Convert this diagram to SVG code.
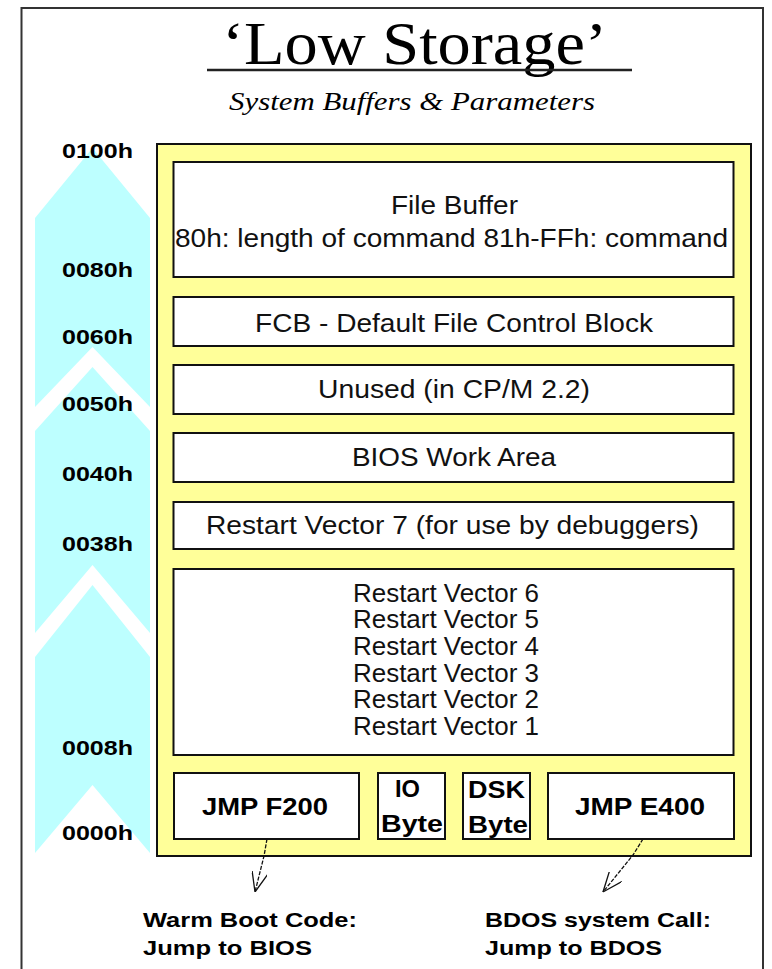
<svg xmlns="http://www.w3.org/2000/svg" width="772" height="969" viewBox="0 0 772 969">
<defs>
<style>
.frame{fill:none;stroke:#333;stroke-width:2}
.cyan{fill:#BDFFFF;stroke:none}
.yel{fill:#FFFF99;stroke:#111;stroke-width:2}
.box{fill:#fff;stroke:#111;stroke-width:2}
.t{font-family:"Liberation Sans",Arial,sans-serif;font-size:25px;fill:#111}
.b{font-family:"Liberation Sans",Arial,sans-serif;font-weight:bold;fill:#000}
.addr{font-size:21px}
.conn{fill:none;stroke:#111;stroke-width:1.3;stroke-dasharray:4 1.5}
</style>
<marker id="vhead" viewBox="0 0 20 16" refX="20" refY="8" markerWidth="20" markerHeight="16" markerUnits="userSpaceOnUse" orient="auto">
<path d="M0,0 L20,8 L0,16" fill="none" stroke="#111" stroke-width="1.3"/>
</marker>
</defs>
<rect width="772" height="969" fill="#fff"/>
<path class="frame" d="M21.5,969 V8 H763 V969"/>

<g id="title">
<text x="222" y="64" font-family="'Liberation Serif','Times New Roman',serif" font-size="62" fill="#000" textLength="385" lengthAdjust="spacingAndGlyphs">‘Low Storage’</text>
<line x1="207" y1="70" x2="632" y2="70" stroke="#222" stroke-width="2.5"/>
<text x="229" y="110" font-family="'Liberation Serif','Times New Roman',serif" font-style="italic" font-size="25" fill="#000" textLength="366" lengthAdjust="spacingAndGlyphs">System Buffers &amp; Parameters</text>
</g>

<g id="address-arrow">
<path class="cyan" d="M92.5,148 L150,218 V407 L92.5,347 L35,407 V218 Z"/>
<path class="cyan" d="M92.5,367 L150,431 V633 L92.5,565 L35,633 V431 Z"/>
<path class="cyan" d="M92.5,585 L150,657 V853 L92.5,785 L35,853 V657 Z"/>
<g class="b addr">
<text x="62" y="158" textLength="71" lengthAdjust="spacingAndGlyphs">0100h</text>
<text x="62" y="277" textLength="71" lengthAdjust="spacingAndGlyphs">0080h</text>
<text x="62" y="344" textLength="71" lengthAdjust="spacingAndGlyphs">0060h</text>
<text x="62" y="411" textLength="71" lengthAdjust="spacingAndGlyphs">0050h</text>
<text x="62" y="481" textLength="71" lengthAdjust="spacingAndGlyphs">0040h</text>
<text x="62" y="551" textLength="71" lengthAdjust="spacingAndGlyphs">0038h</text>
<text x="62" y="755" textLength="71" lengthAdjust="spacingAndGlyphs">0008h</text>
<text x="62" y="840" textLength="71" lengthAdjust="spacingAndGlyphs">0000h</text>
</g>
</g>

<g id="low-storage">
<rect class="yel" x="157" y="144" width="594" height="712"/>
</g>

<g id="file-buffer">
<rect class="box" x="173.5" y="162" width="560" height="115"/>
<text class="t" x="391" y="214" textLength="127" lengthAdjust="spacingAndGlyphs">File Buffer</text>
<text class="t" x="175" y="247" textLength="553" lengthAdjust="spacingAndGlyphs">80h: length of command 81h-FFh: command</text>
</g>

<g id="fcb">
<rect class="box" x="173.5" y="297" width="560" height="49"/>
<text class="t" x="255" y="332" textLength="398" lengthAdjust="spacingAndGlyphs">FCB - Default File Control Block</text>
</g>

<g id="unused">
<rect class="box" x="173.5" y="365" width="560" height="49"/>
<text class="t" x="318" y="398" textLength="272" lengthAdjust="spacingAndGlyphs">Unused (in CP/M 2.2)</text>
</g>

<g id="bios-work">
<rect class="box" x="173.5" y="433" width="560" height="49"/>
<text class="t" x="352" y="466" textLength="204" lengthAdjust="spacingAndGlyphs">BIOS Work Area</text>
</g>

<g id="rst7">
<rect class="box" x="173.5" y="502" width="560" height="47"/>
<text class="t" x="206" y="534" textLength="493" lengthAdjust="spacingAndGlyphs">Restart Vector 7 (for use by debuggers)</text>
</g>

<g id="rst1-6">
<rect class="box" x="173.5" y="569" width="560" height="186"/>
<text class="t" x="353" y="601.5" textLength="186" lengthAdjust="spacingAndGlyphs">Restart Vector 6</text>
<text class="t" x="353" y="628" textLength="186" lengthAdjust="spacingAndGlyphs">Restart Vector 5</text>
<text class="t" x="353" y="655" textLength="186" lengthAdjust="spacingAndGlyphs">Restart Vector 4</text>
<text class="t" x="353" y="681.5" textLength="186" lengthAdjust="spacingAndGlyphs">Restart Vector 3</text>
<text class="t" x="353" y="708" textLength="186" lengthAdjust="spacingAndGlyphs">Restart Vector 2</text>
<text class="t" x="353" y="735" textLength="186" lengthAdjust="spacingAndGlyphs">Restart Vector 1</text>
</g>

<g id="jmp-f200">
<rect class="box" x="174" y="773" width="185" height="66"/>
<text class="b" x="202" y="815" font-size="23" textLength="126" lengthAdjust="spacingAndGlyphs">JMP F200</text>
</g>

<g id="io-byte">
<rect class="box" x="378" y="773" width="67" height="66"/>
<text class="b" x="395" y="797" font-size="23" textLength="25" lengthAdjust="spacingAndGlyphs">IO</text>
<text class="b" x="381" y="832" font-size="23" textLength="62" lengthAdjust="spacingAndGlyphs">Byte</text>
</g>

<g id="dsk-byte">
<rect class="box" x="463" y="773" width="67" height="66"/>
<text class="b" x="468" y="798" font-size="23" textLength="57" lengthAdjust="spacingAndGlyphs">DSK</text>
<text class="b" x="468" y="833" font-size="23" textLength="60" lengthAdjust="spacingAndGlyphs">Byte</text>
</g>

<g id="jmp-e400">
<rect class="box" x="548" y="773" width="186" height="66"/>
<text class="b" x="575" y="815" font-size="23" textLength="130" lengthAdjust="spacingAndGlyphs">JMP E400</text>
</g>

<g id="warm-boot">
<text class="b" x="143" y="927" font-size="21" textLength="214" lengthAdjust="spacingAndGlyphs">Warm Boot Code:</text>
<text class="b" x="143" y="955" font-size="21" textLength="169" lengthAdjust="spacingAndGlyphs">Jump to BIOS</text>
</g>

<g id="bdos-call">
<text class="b" x="485" y="927" font-size="21" textLength="226" lengthAdjust="spacingAndGlyphs">BDOS system Call:</text>
<text class="b" x="485" y="955" font-size="21" textLength="177" lengthAdjust="spacingAndGlyphs">Jump to BDOS</text>
</g>

<g id="connectors">
<path class="conn" d="M267,839 L264,856 L255,892" marker-end="url(#vhead)"/>
<path class="conn" d="M643,839 L633,855 L603,892" marker-end="url(#vhead)"/>
</g>
</svg>
